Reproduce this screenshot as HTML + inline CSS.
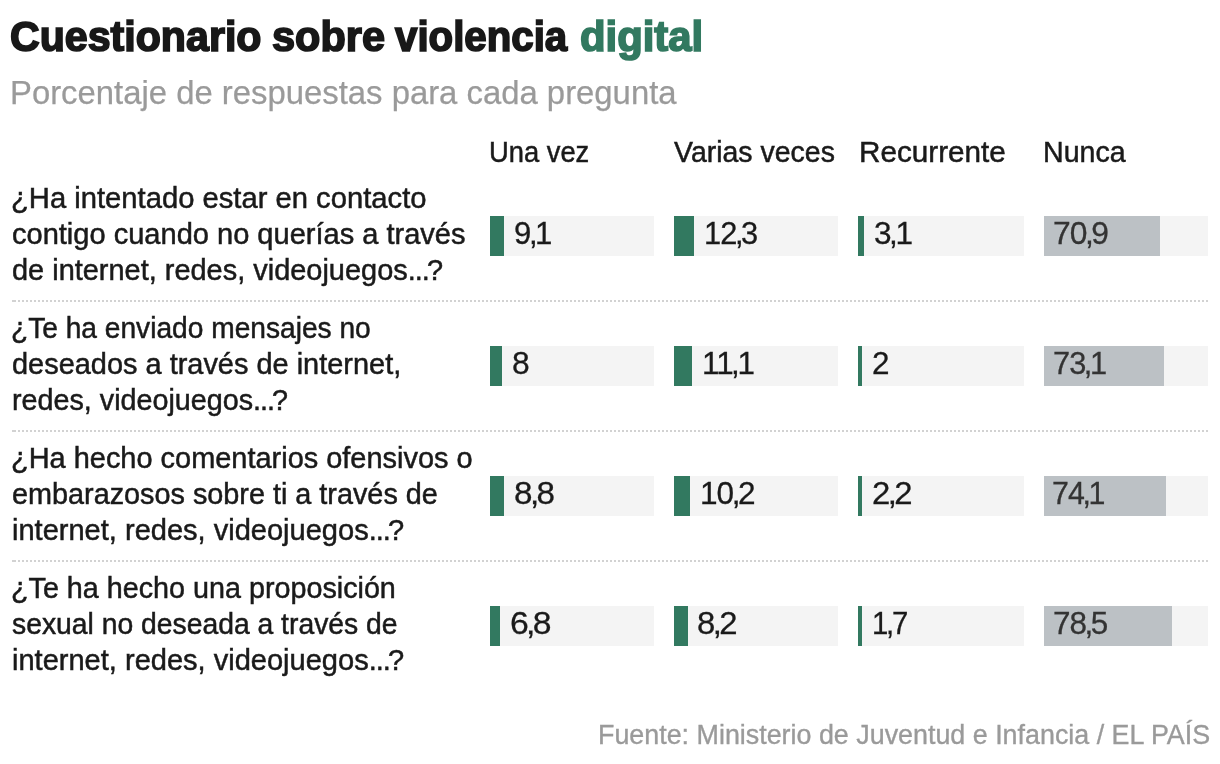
<!DOCTYPE html>
<html lang="es"><head><meta charset="utf-8"><title>Cuestionario sobre violencia digital</title>
<style>
html,body{margin:0;padding:0;background:#fff;}
body{width:1220px;height:764px;position:relative;overflow:hidden;font-family:"Liberation Sans",sans-serif;color:#1a1a1a;}
.t{position:absolute;white-space:nowrap;line-height:1;transform-origin:0 0;}
.title{font-size:42px;white-space:pre;font-weight:bold;color:#181818;-webkit-text-stroke:1.7px #181818;}
.title span{color:#327960;-webkit-text-stroke:1.7px #327960;}
.sub{font-size:33px;color:#9a9a9a;-webkit-text-stroke:0.25px #9a9a9a;}
.head{font-size:29.5px;color:#1a1a1a;-webkit-text-stroke:0.5px #1a1a1a;}
.q{font-size:29.5px;-webkit-text-stroke:0.5px #1a1a1a;}
.q i{font-style:normal;letter-spacing:-1px;margin-right:-2px;}
.track{position:absolute;height:40px;background:#f4f4f4;}
.bar{position:absolute;left:0;top:0;height:40px;background:#327960;}
.bar.g{background:#bcc1c5;border:0;box-shadow:none;}
.val{font-size:32px;letter-spacing:-1px;color:#1a1a1a;-webkit-text-stroke:0.3px #1a1a1a;}
.val b{font-weight:normal;margin:0 -1.5px;}
.val.g{color:#333;-webkit-text-stroke:0.3px #333;}
.sep{position:absolute;left:12px;width:1196px;height:2px;background:
 linear-gradient(#d2d2d2,#d2d2d2) 0 0/4px 2px no-repeat,
 repeating-linear-gradient(90deg,transparent 0,transparent 2px,#d2d2d2 2px,#d2d2d2 4px);}
.foot{font-size:27px;color:#9a9a9a;-webkit-text-stroke:0.35px #9a9a9a;}
</style></head><body>
<div class="t title" style="left:10.22px;top:15.80px;transform:scaleX(0.9796);">Cuestionario </div>
<div class="t title" style="left:271.61px;top:15.80px;transform:scaleX(0.9876);">sobre </div>
<div class="t title" style="left:395.16px;top:15.80px;transform:scaleX(0.9582);">violencia </div>
<div class="t title" style="left:579.50px;top:15.80px;transform:scaleX(0.9959);"><span>digital</span></div>
<div class="t sub" style="left:9.81px;top:75.50px;transform:scaleX(0.9954);">Porcentaje de respuestas para cada pregunta</div>
<div class="t head" style="left:489.05px;top:137.00px;transform:scaleX(0.9267);">Una vez</div>
<div class="t head" style="left:674.10px;top:137.00px;transform:scaleX(0.9651);">Varias veces</div>
<div class="t head" style="left:858.89px;top:137.00px;transform:scaleX(1.0056);">Recurrente</div>
<div class="t head" style="left:1043.06px;top:137.00px;transform:scaleX(0.9687);">Nunca</div>
<div class="t q" style="left:11.22px;top:183.30px;transform:scaleX(0.9897);">¿Ha intentado estar en contacto</div>
<div class="t q" style="left:12.02px;top:219.30px;transform:scaleX(0.9841);">contigo cuando no querías a través</div>
<div class="t q" style="left:12.02px;top:255.30px;transform:scaleX(0.9808);">de internet, redes, videojuegos<i>...</i>?</div>
<div class="track" style="left:490px;top:216px;width:164px"><div class="bar" style="width:14px"></div></div>
<div class="t val" style="left:514.23px;top:217.00px;transform:scaleX(0.9730);">9<b>,</b>1</div>
<div class="track" style="left:674px;top:216px;width:164px"><div class="bar" style="width:20px"></div></div>
<div class="t val" style="left:703.97px;top:217.00px;transform:scaleX(0.9642);">12<b>,</b>3</div>
<div class="track" style="left:858px;top:216px;width:166px"><div class="bar" style="width:6px"></div></div>
<div class="t val" style="left:873.71px;top:217.00px;transform:scaleX(0.9865);">3<b>,</b>1</div>
<div class="track" style="left:1044px;top:216px;width:164px"><div class="bar g" style="width:116px"></div></div>
<div class="t val g" style="left:1052.71px;top:217.00px;transform:scaleX(0.9944);">70<b>,</b>9</div>
<div class="sep" style="top:300px"></div>
<div class="t q" style="left:11.19px;top:313.30px;transform:scaleX(0.9537);">¿Te ha enviado mensajes no</div>
<div class="t q" style="left:12.02px;top:349.30px;transform:scaleX(0.9807);">deseados a través de internet,</div>
<div class="t q" style="left:11.75px;top:385.30px;transform:scaleX(0.9733);">redes, videojuegos<i>...</i>?</div>
<div class="track" style="left:490px;top:346px;width:164px"><div class="bar" style="width:12px"></div></div>
<div class="t val" style="left:512.21px;top:347.00px;transform:scaleX(0.9937);">8</div>
<div class="track" style="left:674px;top:346px;width:164px"><div class="bar" style="width:18px"></div></div>
<div class="t val" style="left:702.14px;top:347.00px;transform:scaleX(0.9800);">11<b>,</b>1</div>
<div class="track" style="left:858px;top:346px;width:166px"><div class="bar" style="width:4px"></div></div>
<div class="t val" style="left:872.07px;top:347.00px;transform:scaleX(0.9833);">2</div>
<div class="track" style="left:1044px;top:346px;width:164px"><div class="bar g" style="width:120px"></div></div>
<div class="t val g" style="left:1052.94px;top:347.00px;transform:scaleX(0.9611);">73<b>,</b>1</div>
<div class="sep" style="top:430px"></div>
<div class="t q" style="left:11.14px;top:443.30px;transform:scaleX(0.9809);">¿Ha hecho comentarios ofensivos o</div>
<div class="t q" style="left:12.02px;top:479.30px;transform:scaleX(0.9763);">embarazosos sobre ti a través de</div>
<div class="t q" style="left:12.03px;top:515.30px;transform:scaleX(0.9841);">internet, redes, videojuegos<i>...</i>?</div>
<div class="track" style="left:490px;top:476px;width:164px"><div class="bar" style="width:14px"></div></div>
<div class="t val" style="left:513.96px;top:477.00px;transform:scaleX(1.0378);">8<b>,</b>8</div>
<div class="track" style="left:674px;top:476px;width:164px"><div class="bar" style="width:16px"></div></div>
<div class="t val" style="left:700.33px;top:477.00px;transform:scaleX(0.9868);">10<b>,</b>2</div>
<div class="track" style="left:858px;top:476px;width:166px"><div class="bar" style="width:4px"></div></div>
<div class="t val" style="left:871.97px;top:477.00px;transform:scaleX(1.0270);">2<b>,</b>2</div>
<div class="track" style="left:1044px;top:476px;width:164px"><div class="bar g" style="width:122px"></div></div>
<div class="t val g" style="left:1052.35px;top:477.00px;transform:scaleX(0.9481);">74<b>,</b>1</div>
<div class="sep" style="top:560px"></div>
<div class="t q" style="left:11.15px;top:573.30px;transform:scaleX(0.9737);">¿Te ha hecho una proposición</div>
<div class="t q" style="left:12.04px;top:609.30px;transform:scaleX(0.9595);">sexual no deseada a través de</div>
<div class="t q" style="left:12.03px;top:645.30px;transform:scaleX(0.9841);">internet, redes, videojuegos<i>...</i>?</div>
<div class="track" style="left:490px;top:606px;width:164px"><div class="bar" style="width:10px"></div></div>
<div class="t val" style="left:510.35px;top:607.00px;transform:scaleX(1.0541);">6<b>,</b>8</div>
<div class="track" style="left:674px;top:606px;width:164px"><div class="bar" style="width:14px"></div></div>
<div class="t val" style="left:697.47px;top:607.00px;transform:scaleX(1.0270);">8<b>,</b>2</div>
<div class="track" style="left:858px;top:606px;width:166px"><div class="bar" style="width:4px"></div></div>
<div class="t val" style="left:871.57px;top:607.00px;transform:scaleX(0.9167);">1<b>,</b>7</div>
<div class="track" style="left:1044px;top:606px;width:164px"><div class="bar g" style="width:128px"></div></div>
<div class="t val g" style="left:1052.92px;top:607.00px;transform:scaleX(0.9833);">78<b>,</b>5</div>
<div class="t foot" style="left:598.01px;top:721.80px;transform:scaleX(0.9948);">Fuente: Ministerio de Juventud e Infancia / EL PAÍS</div>
</body></html>
